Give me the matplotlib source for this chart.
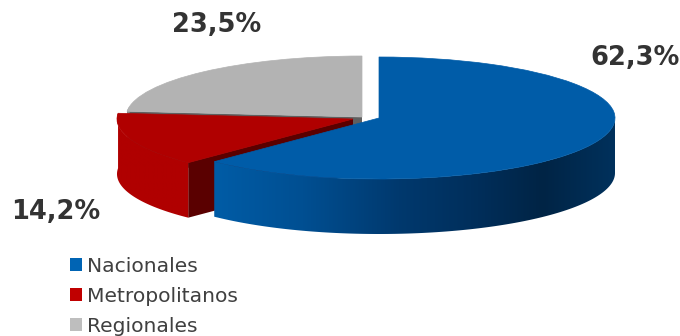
import numpy as np
import matplotlib
matplotlib.use("Agg")
import matplotlib.pyplot as plt
from matplotlib.colors import LinearSegmentedColormap
from matplotlib.patches import Wedge, Polygon, Patch
from matplotlib.transforms import Affine2D

categories = ["Nacionales", "Metropolitanos", "Regionales"]
shares = [62.3, 14.2, 23.5]
top_colors = ["#005ca8", "#b00000", "#b3b3b3"]
cut_colors = ["#00305a", "#5a0000", "#5f5f5f"]
legend_colors = ["#0064b4", "#c00000", "#bebebe"]
apexes = [(379, 118), (353, 119), (362, 117)]
label_positions = [(635, 58), (56, 212), (217, 25)]

W, H = 680, 336
RX, RY, DEPTH = 236, 61, 55

blue_rim_stops = [(0.0, "#005ca6"), (0.22, "#004f92"), (0.46, "#00396e"),
                  (0.66, "#002e5a"), (0.82, "#002445"), (1.0, "#00315c")]
red_rim_stops = [(0.0, "#b00000"), (1.0, "#b00000")]
grey_rim_stops = [(0.0, "#8a8a8a"), (1.0, "#8a8a8a")]
rim_stops = [blue_rim_stops, red_rim_stops, grey_rim_stops]

fig = plt.figure(figsize=(W / 100, H / 100), dpi=100, facecolor="white")
ax = fig.add_axes([0, 0, 1, 1])
ax.set_xlim(0, W)
ax.set_ylim(0, H)
ax.axis("off")


def rim_point(apex, angle):
    """Point on the elliptical rim of a slice, in figure pixels (y up)."""
    t = np.radians(angle)
    return apex[0] + RX * np.cos(t), (H - apex[1]) + RY * np.sin(t)


def draw_slice(apex, theta1, theta2, top, cut, stops, zorder):
    cx, cy = apex[0], H - apex[1]

    # Cut faces whose outward normal points towards the viewer
    for angle, normal in ((theta1, theta1 - 90), (theta2, theta2 + 90)):
        if np.sin(np.radians(normal)) < -0.01:
            sx, sy = rim_point(apex, angle)
            ax.add_patch(Polygon([(cx, cy), (sx, sy), (sx, sy - DEPTH), (cx, cy - DEPTH)],
                                 closed=True, fc=cut, ec="none", zorder=zorder))

    # Outer rim, on the front half of the ellipse
    a1, a2 = max(theta1, 170), min(theta2, 360)
    if a2 > a1:
        angles = np.linspace(a1, a2, 160)
        rim = np.array([rim_point(apex, a) for a in angles])
        outline = np.vstack([rim, rim[::-1] - [0, DEPTH]])
        clip = Polygon(outline, closed=True, fc="none", ec="none")
        ax.add_patch(clip)
        cmap = LinearSegmentedColormap.from_list("rim", stops)
        grad = np.linspace(0, 1, 256)[None, :]
        im = ax.imshow(grad, cmap=cmap, aspect="auto", origin="lower",
                       extent=(outline[:, 0].min(), outline[:, 0].max(),
                               outline[:, 1].min(), outline[:, 1].max()),
                       zorder=zorder + 0.1)
        im.set_clip_path(clip)

    # Top face
    ax.add_patch(Wedge((0, 0), 1, theta1, theta2, fc=top, ec=top, lw=0.5, zorder=zorder + 0.2,
                       transform=Affine2D().scale(RX, RY).translate(cx, cy) + ax.transData))


# Angles counter-clockwise from 3 o'clock; the pie runs clockwise from 12 o'clock
boundaries = 450 - np.cumsum([0] + shares) * 3.6

# Back to front: grey, red, blue
for order, i in enumerate((2, 1, 0)):
    draw_slice(apexes[i], boundaries[i + 1], boundaries[i],
               top_colors[i], cut_colors[i], rim_stops[i], 2 + order)

ax.set_xlim(0, W)
ax.set_ylim(0, H)

for value, (x, y) in zip(shares, label_positions):
    ax.text(x, H - y, f"{value:.1f}".replace(".", ",") + "%", ha="center", va="center",
            fontsize=18.5, fontweight="bold", color="#333333", family="DejaVu Sans", zorder=10)

handles = [Patch(fc=c, ec="none") for c in legend_colors]
leg = ax.legend(handles, categories, loc="upper left", bbox_to_anchor=(70 / W, 1 - 257 / H),
                bbox_transform=fig.transFigure, frameon=False,
                labelcolor="#404040", handlelength=0.6, handleheight=0.6,
                handletextpad=0.25, labelspacing=0.54, borderpad=0.0, borderaxespad=0.0,
                prop={"family": "DejaVu Sans", "size": 14.6})
leg.set_zorder(10)

fig.savefig("out.png", dpi=100, facecolor="white")
